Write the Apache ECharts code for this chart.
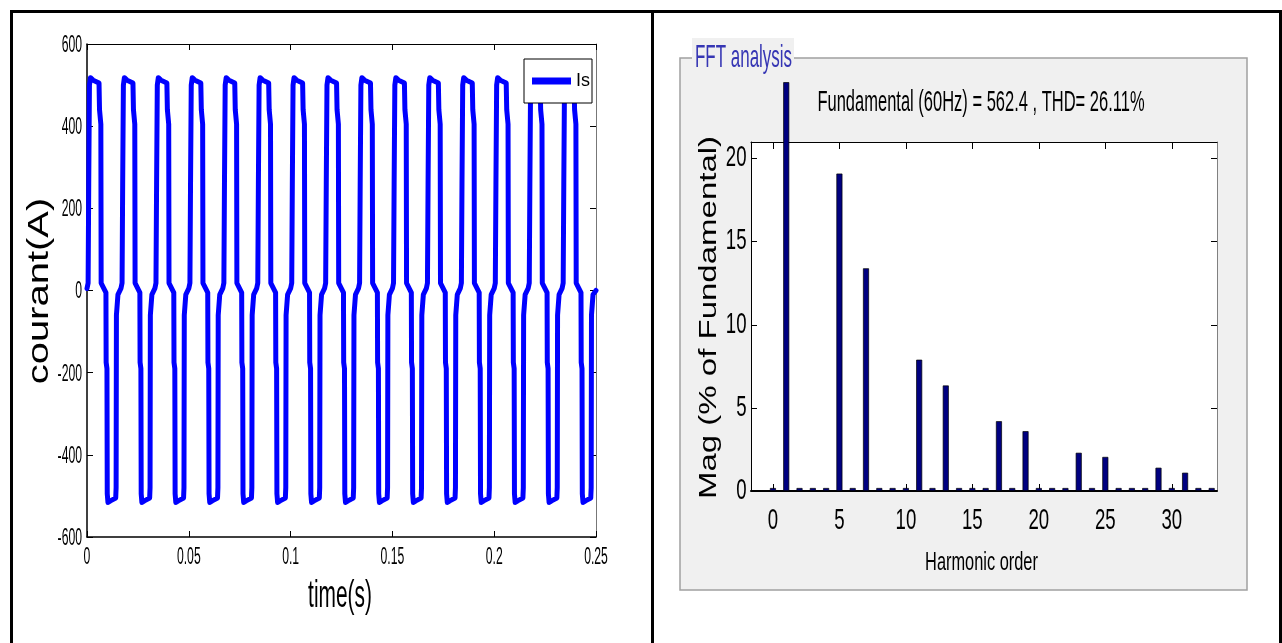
<!DOCTYPE html>
<html>
<head>
<meta charset="utf-8">
<script src="https://cdn.jsdelivr.net/npm/echarts@6/dist/echarts.min.js"></script>
<style>
body{margin:0;background:#fff;}
#chart{position:absolute;left:0;top:0;width:1282px;height:643px;}
</style>
</head>
<body>
<div id="chart"></div>
<!-- table cell borders of the document page -->
<div style="position:absolute;left:10px;top:10px;width:1272px;height:633px;border:3px solid #000;border-bottom:none;box-sizing:border-box;pointer-events:none;"></div>
<div style="position:absolute;left:651px;top:10px;width:3px;height:633px;background:#000;pointer-events:none;"></div>
<script>
// ---- courant Is : one 60 Hz period (ms inside the period, A)
var cycleStartMs = [0, 16.67, 33.33, 50, 66.67, 83.33, 100, 116.67, 133.33, 150, 166.67, 183.33, 200, 216.67, 233.33];
var cycleMs = [0, 0.55, 0.85, 1.2, 1.7, 3.0, 5.9, 6.15, 6.8, 6.95, 9.3, 9.4, 9.8, 9.95, 10.3, 11.5, 14.1, 14.3, 14.45, 15.2];
var cycleA  = [5, 18, 260, 500, 518, 512, 505, 440, 405, 18, -5, -175, -190, -495, -516, -512, -505, -480, -60, -10];
var endPoint = [250, 0];

var timeTicks = [0, 0.05, 0.1, 0.15, 0.2, 0.25];
var courantTicks = [-600, -400, -200, 0, 200, 400, 600];

// ---- FFT analysis (% of fundamental), fundamental bar as far as it shows
var harmonicOrder = [0, 1, 2, 3, 4, 5, 6, 7, 8, 9, 10, 11, 12, 13, 14, 15, 16, 17, 18, 19, 20, 21, 22, 23, 24, 25, 26, 27, 28, 29, 30, 31, 32, 33];
var harmonicMag = [0.18, 24.6, 0.18, 0.18, 0.18, 19.1, 0.18, 13.4, 0.18, 0.18, 0.18, 7.9, 0.18, 6.35, 0.18, 0.18, 0.18, 4.2, 0.18, 3.6, 0.18, 0.18, 0.18, 2.3, 0.18, 2.05, 0.18, 0.18, 0.18, 1.4, 0.18, 1.1, 0.18, 0.18];
var harmonicTicks = [0, 5, 10, 15, 20, 25, 30];
var magTicks = [0, 5, 10, 15, 20];

var isData = [];
cycleStartMs.forEach(function (t0) {
    for (var i = 0; i < cycleMs.length; i++) {
        isData.push([(t0 + cycleMs[i]) / 1000, cycleA[i]]);
    }
});
isData.push([endPoint[0] / 1000, endPoint[1]]);

var fftData = harmonicOrder.map(function (h, i) { return [h, harmonicMag[i]]; });

var plain = "'Liberation Sans', Arial, sans-serif";

// plot boxes
var g0 = { left: 87, top: 44, width: 509, height: 493 };
var g1 = { left: 751, top: 142, width: 466, height: 349 };

function boxAxis(extra) {
    var a = {
        type: 'value',
        splitLine: { show: false },
        axisLine: { onZero: false, lineStyle: { color: '#000', width: 1 } },
        axisTick: { inside: true, length: 6, lineStyle: { color: '#000' } },
        axisLabel: { show: false }
    };
    for (var k in extra) a[k] = extra[k];
    return a;
}

var chart = echarts.init(document.getElementById('chart'));

var option = {
    animation: false,
    grid: [
        { left: g0.left, top: g0.top, width: g0.width, height: g0.height },
        { left: g1.left, top: g1.top, width: g1.width, height: g1.height, show: true, backgroundColor: '#fff', borderWidth: 0 }
    ],
    legend: {
        data: ['Is'],
        left: 524,
        top: 59,
        backgroundColor: '#fff',
        borderColor: '#000',
        borderWidth: 1,
        borderRadius: 0,
        padding: [13, 2, 13, 8],
        itemWidth: 39,
        itemHeight: 7,
        icon: 'rect',
        textStyle: { fontFamily: plain, fontSize: 18, color: '#000' }
    },
    xAxis: [
        boxAxis({
            gridIndex: 0, min: timeTicks[0], max: timeTicks[timeTicks.length - 1], interval: 0.05,
            axisLine: { onZero: false, lineStyle: { color: '#000', width: 1.5 } }
        }),
        boxAxis({ gridIndex: 0, position: 'top', min: timeTicks[0], max: timeTicks[timeTicks.length - 1], interval: 0.05 }),
        boxAxis({
            gridIndex: 1, min: -1.65, max: 33.4,
            axisLine: { onZero: false, lineStyle: { color: '#000', width: 2 } },
            axisTick: { inside: true, length: 7, customValues: harmonicTicks, lineStyle: { color: '#000' } }
        }),
        boxAxis({
            gridIndex: 1, position: 'top', min: -1.65, max: 33.4,
            axisTick: { inside: true, length: 7, customValues: harmonicTicks, lineStyle: { color: '#000' } }
        })
    ],
    yAxis: [
        boxAxis({
            gridIndex: 0, min: courantTicks[0], max: courantTicks[courantTicks.length - 1], interval: 200,
            axisLine: { onZero: false, lineStyle: { color: '#000', width: 1.5 } }
        }),
        boxAxis({
            gridIndex: 0, position: 'right', min: courantTicks[0], max: courantTicks[courantTicks.length - 1], interval: 200,
            axisLine: { onZero: false, lineStyle: { color: '#777', width: 1 } }
        }),
        boxAxis({
            gridIndex: 1, min: 0, max: 21,
            axisTick: { inside: true, length: 6, customValues: magTicks, lineStyle: { color: '#000' } }
        }),
        boxAxis({
            gridIndex: 1, position: 'right', min: 0, max: 21,
            axisLine: { onZero: false, lineStyle: { color: '#808080', width: 1 } },
            axisTick: { inside: true, length: 6, customValues: magTicks, lineStyle: { color: '#000' } }
        })
    ],
    series: [
        {
            name: 'Is',
            type: 'line',
            xAxisIndex: 0,
            yAxisIndex: 0,
            data: isData,
            showSymbol: false,
            symbol: 'none',
            itemStyle: { color: '#0000ff' },
            lineStyle: { color: '#0000ff', width: 5, join: 'round', cap: 'round' }
        },
        {
            name: 'FFT',
            type: 'bar',
            xAxisIndex: 2,
            yAxisIndex: 2,
            data: fftData,
            barWidth: 6,
            clip: false,
            itemStyle: { color: '#000080', borderColor: '#000', borderWidth: 0.7 }
        }
    ]
};

chart.setOption(option);

// texts: the picture is squeezed sideways, so texts get a horizontal scale
function txt(x, y, text, size, sx, align, extra) {
    var el = { type: 'text', z: 10, x: x, y: y, scaleX: sx,
        style: { text: text, font: size + 'px ' + plain, fill: '#000', align: align, verticalAlign: 'middle' } };
    for (var k in extra) el[k] = extra[k];
    return el;
}

var elements = [
    // FFT analysis panel
    { type: 'rect', z: -5, shape: { x: 680, y: 58, width: 567, height: 532 },
      style: { fill: '#f0f0f0', stroke: '#a0a0a0', lineWidth: 1.5 } },
    { type: 'rect', z: -4, shape: { x: 692, y: 38, width: 102, height: 34 },
      style: { fill: '#f0f0f0' } },
    { type: 'text', z: 10, x: 695, y: 58.5, scaleX: 0.53,
      style: { text: 'FFT analysis', font: '32px ' + plain, fill: '#3636b4', align: 'left', verticalAlign: 'middle' } },
    txt(981, 103, 'Fundamental (60Hz) = 562.4 , THD= 26.11%', 30, 0.55, 'center'),
    txt(981.5, 562.5, 'Harmonic order', 26, 0.63, 'center'),
    txt(710, 317.5, 'Mag (% of Fundamental)', 33, 1, 'center', { rotation: Math.PI / 2, scaleY: 0.7 }),
    // axis names of the Is plot
    txt(40, 291, 'courant(A)', 40, 1, 'center', { rotation: Math.PI / 2, scaleY: 0.72 }),
    txt(340, 597, 'time(s)', 38, 0.55, 'center')
];

// tick labels placed with the axes' own scales
timeTicks.forEach(function (v) {
    var px = chart.convertToPixel({ xAxisIndex: 0 }, v);
    elements.push(txt(px, g0.top + g0.height + 20.5, String(v), 23, 0.53, 'center'));
});
courantTicks.forEach(function (v) {
    var py = chart.convertToPixel({ yAxisIndex: 0 }, v);
    elements.push(txt(g0.left - 5, py + 1.5, String(v), 23, 0.53, 'right'));
});
harmonicTicks.forEach(function (v) {
    var px = chart.convertToPixel({ xAxisIndex: 2 }, v);
    elements.push(txt(px, g1.top + g1.height + 30, String(v), 30, 0.62, 'center'));
});
magTicks.forEach(function (v) {
    var py = chart.convertToPixel({ yAxisIndex: 2 }, v);
    elements.push(txt(g1.left - 4.5, py - 0.5, String(v), 30, 0.62, 'right'));
});

chart.setOption({ graphic: { elements: elements } });
</script>
</body>
</html>
